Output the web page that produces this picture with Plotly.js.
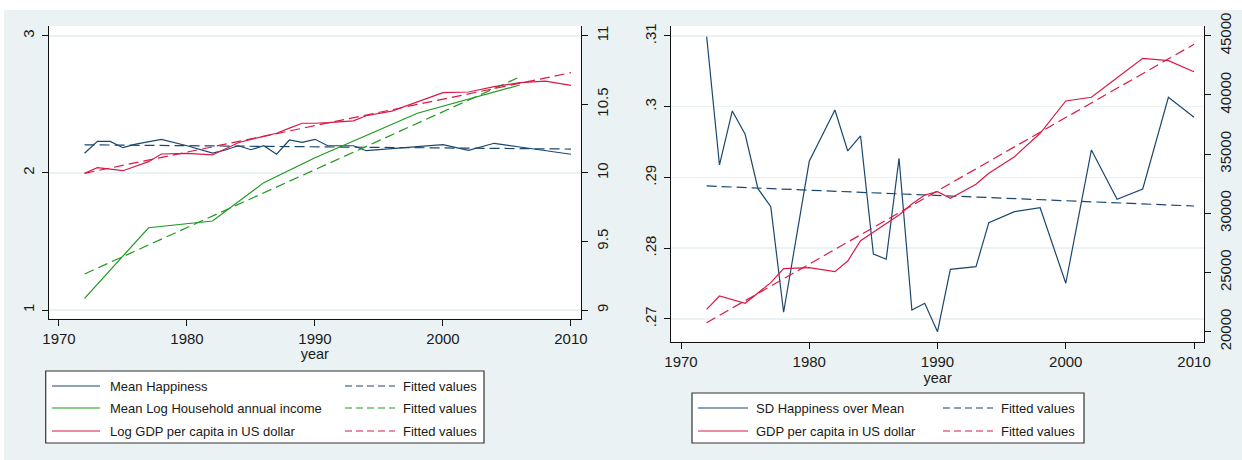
<!DOCTYPE html>
<html>
<head>
<meta charset="utf-8">
<script src="https://cdn.plot.ly/plotly-3.0.1.min.js"></script>
<style>html,body{margin:0;padding:0;background:#fff;}#chart{width:1242px;height:460px;}</style>
</head>
<body>
<div id="chart"></div>
<script>
// ---------- Left panel data ----------
const yearsHap = [1972,1973,1974,1975,1976,1977,1978,1980,1982,1983,1984,1985,1986,1987,1988,1989,1990,1991,1993,1994,1996,1998,2000,2002,2004,2006,2008,2010];
const meanHappiness = [2.143,2.23,2.23,2.184,2.21,2.228,2.245,2.198,2.145,2.167,2.198,2.169,2.198,2.136,2.24,2.223,2.245,2.198,2.198,2.162,2.177,2.189,2.206,2.165,2.216,2.189,2.162,2.136];
const fitHapYears = [1972,2010];
const fitHappiness = [2.205,2.174];

const yearsInc = [1972,1977,1982,1986,1990,1998,2006];
const meanLogIncome = [9.085,9.60,9.649,9.929,10.111,10.435,10.641];
const fitIncYears = [1972,2006];
const fitLogIncome = [9.263,10.70];

const yearsLogGdp = [1972,1973,1975,1977,1978,1980,1982,1983,1984,1985,1986,1987,1988,1989,1990,1991,1993,1994,1996,1998,2000,2002,2004,2006,2008,2010];
const logGdp = [9.997,10.038,10.016,10.082,10.138,10.143,10.131,10.174,10.22,10.244,10.264,10.289,10.327,10.362,10.362,10.366,10.38,10.417,10.451,10.519,10.585,10.59,10.629,10.658,10.67,10.639];
const fitLogGdpYears = [1972,2010];
const fitLogGdp = [9.997,10.731];

// ---------- Right panel data ----------
const yearsSd = [1972,1973,1974,1975,1976,1977,1978,1980,1982,1983,1984,1985,1986,1987,1988,1989,1990,1991,1993,1994,1996,1998,2000,2002,2004,2006,2008,2010];
const sdOverMean = [0.3099,0.29177,0.2994,0.2961,0.28842,0.28587,0.27095,0.29229,0.29954,0.29375,0.29587,0.27919,0.27844,0.29271,0.27127,0.27222,0.2682,0.27702,0.27739,0.28361,0.28517,0.28573,0.27505,0.29389,0.28692,0.28837,0.30134,0.29851];
const fitSdYears = [1972,2010];
const fitSd = [0.2888,0.28597];

const yearsGdp = [1972,1973,1975,1977,1978,1980,1982,1983,1984,1986,1987,1988,1989,1990,1991,1993,1994,1996,1998,2000,2002,2004,2006,2008,2010];
const gdpPerCapita = [21890,23015,22400,24140,25320,25405,25070,25970,27690,29155,29855,30785,31545,31825,31265,32450,33380,34780,36760,39485,39800,41450,43090,42890,41960];
const fitGdpYears = [1972,2010];
const fitGdp = [20760,44275];

// ---------- Tick labels ----------
const xTicks = [1970,1980,1990,2000,2010];
const yLeftTicks = [1,2,3];
const yLeftTicks2 = [9,9.5,10,10.5,11];
const yRightTicks = [0.27,0.28,0.29,0.30,0.31];
const yRightTickText = ['.27','.28','.29','.3','.31'];
const yRightTicks2 = [20000,25000,30000,35000,40000,45000];
const yRightTickText2 = ['20000','25000','30000','35000','40000','45000'];

// ---------- Styling ----------
const BLUE = '#1A476F', GREEN = '#1E9A1E', RED = '#D91A46';
const BG = '#EAF2F3';
const FONT = 'Liberation Sans, Arial, sans-serif';
const W = 1242, H = 460;
const px = v => v / W, py = v => 1 - v / H;
const DASH = '10px,5px';

const traces = [
  {x: yearsHap, y: meanHappiness, xaxis:'x', yaxis:'y', mode:'lines', line:{color:BLUE, width:1.2}, name:'Mean Happiness'},
  {x: fitHapYears, y: fitHappiness, xaxis:'x', yaxis:'y', mode:'lines', line:{color:BLUE, width:1.2, dash:DASH}, name:'Fitted values'},
  {x: yearsInc, y: meanLogIncome, xaxis:'x', yaxis:'y2', mode:'lines', line:{color:GREEN, width:1.2}, name:'Mean Log Household annual income'},
  {x: fitIncYears, y: fitLogIncome, xaxis:'x', yaxis:'y2', mode:'lines', line:{color:GREEN, width:1.2, dash:DASH}, name:'Fitted values'},
  {x: yearsLogGdp, y: logGdp, xaxis:'x', yaxis:'y2', mode:'lines', line:{color:RED, width:1.2}, name:'Log GDP per capita in US dollar'},
  {x: fitLogGdpYears, y: fitLogGdp, xaxis:'x', yaxis:'y2', mode:'lines', line:{color:RED, width:1.2, dash:DASH}, name:'Fitted values'},
  {x: yearsSd, y: sdOverMean, xaxis:'x3', yaxis:'y3', mode:'lines', line:{color:BLUE, width:1.2}, name:'SD Happiness over Mean'},
  {x: fitSdYears, y: fitSd, xaxis:'x3', yaxis:'y3', mode:'lines', line:{color:BLUE, width:1.2, dash:DASH}, name:'Fitted values'},
  {x: yearsGdp, y: gdpPerCapita, xaxis:'x3', yaxis:'y4', mode:'lines', line:{color:RED, width:1.2}, name:'GDP per capita in US dollar'},
  {x: fitGdpYears, y: fitGdp, xaxis:'x3', yaxis:'y4', mode:'lines', line:{color:RED, width:1.2, dash:DASH}, name:'Fitted values'}
];

const tickFont = {family: FONT, size: 15, color: '#1a1a1a'};
const common = {showline:true, linecolor:'#111', linewidth:1, ticks:'outside', ticklen:6, tickcolor:'#111', tickwidth:1, zeroline:false, tickfont:tickFont, automargin:false, fixedrange:true};

const layout = {
  width: W, height: H,
  margin: {l:0, r:0, t:0, b:0},
  paper_bgcolor: BG, plot_bgcolor: '#ffffff',
  showlegend: false,
  xaxis: Object.assign({}, common, {domain:[px(49), px(580.7)], range:[1969.22, 2010.76], tickvals:xTicks, showgrid:false, anchor:'y',
    title:{text:'year', font:{family:FONT, size:14.5, color:'#1a1a1a'}, standoff:0}}),
  yaxis: Object.assign({}, common, {domain:[py(318.5), py(26)], range:[0.938, 3.0715], tickvals:yLeftTicks, tickangle:-90, showgrid:true, gridcolor:BG, gridwidth:1.5, anchor:'x', ticklabelstandoff:2}),
  yaxis2: Object.assign({}, common, {overlaying:'y', side:'right', anchor:'x', range:[8.938, 11.0715], tickvals:yLeftTicks2, tickangle:-90, showgrid:false, ticklabelstandoff:2}),
  xaxis3: Object.assign({}, common, {domain:[px(671), px(1204.3)], range:[1969.22, 2010.8], tickvals:xTicks, showgrid:false, anchor:'y3',
    title:{text:'year', font:{family:FONT, size:14.5, color:'#1a1a1a'}, standoff:0}}),
  yaxis3: Object.assign({}, common, {domain:[py(341.7), py(26)], range:[0.26679, 0.31141], tickvals:yRightTicks, ticktext:yRightTickText, tickangle:-90, showgrid:true, gridcolor:BG, gridwidth:1.5, anchor:'x3', ticklabelstandoff:2}),
  yaxis4: Object.assign({}, common, {overlaying:'y3', side:'right', anchor:'x3', range:[19155, 45819], tickvals:yRightTicks2, ticktext:yRightTickText2, tickangle:-90, showgrid:false, ticklabelstandoff:2}),
  shapes: [],
  annotations: []
};

// white frame strips at the top and left edge
layout.shapes.push({type:'rect', xref:'paper', yref:'paper', x0:0, x1:1, y0:py(10), y1:1, fillcolor:'#ffffff', line:{width:0}, layer:'below'});
layout.shapes.push({type:'rect', xref:'paper', yref:'paper', x0:0, x1:px(4), y0:0, y1:1, fillcolor:'#ffffff', line:{width:0}, layer:'below'});

// legend builder (drawn as boxes, line samples and text)
function legendBox(x0, x1, y0, y1) {
  layout.shapes.push({type:'rect', xref:'paper', yref:'paper', x0:px(x0), x1:px(x1), y0:py(y1), y1:py(y0), fillcolor:'#ffffff', line:{color:'#333', width:1.2}, layer:'above'});
}
function legendItem(sx0, sx1, tx, y, color, dashed, label) {
  layout.shapes.push({type:'line', xref:'paper', yref:'paper', x0:px(sx0), x1:px(sx1), y0:py(y), y1:py(y), line:{color:color, width:1.2, dash: dashed ? '7px,4px' : 'solid'}, layer:'above'});
  layout.annotations.push({xref:'paper', yref:'paper', x:px(tx), y:py(y), xanchor:'left', yanchor:'middle', showarrow:false, text:label, font:{family:FONT, size:13, color:'#1a1a1a'}});
}
legendBox(45.7, 484, 371, 443);
legendItem(52, 100, 108, 386, BLUE, false, traces[0].name);
legendItem(345, 395, 401, 386, BLUE, true, traces[1].name);
legendItem(52, 100, 108, 408, GREEN, false, traces[2].name);
legendItem(345, 395, 401, 408, GREEN, true, traces[3].name);
legendItem(52, 100, 108, 431, RED, false, traces[4].name);
legendItem(345, 395, 401, 431, RED, true, traces[5].name);

legendBox(692, 1084, 393, 443);
legendItem(698, 748, 754, 408, BLUE, false, traces[6].name);
legendItem(943, 993, 999, 408, BLUE, true, traces[7].name);
legendItem(698, 748, 754, 431, RED, false, traces[8].name);
legendItem(943, 993, 999, 431, RED, true, traces[9].name);

Plotly.newPlot('chart', traces, layout, {staticPlot:true, displayModeBar:false});
</script>
</body>
</html>
